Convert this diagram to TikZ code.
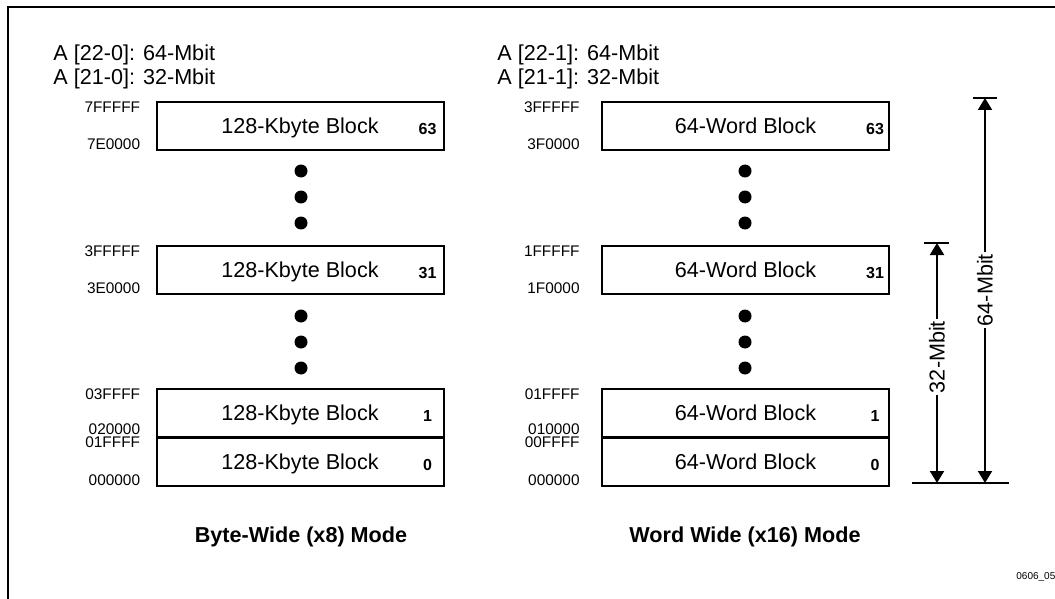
\documentclass[tikz,border=0pt]{standalone}
\usepackage{fontspec}
\setmainfont{Liberation Sans}
\usepackage{tikz}
\usetikzlibrary{arrows.meta}

\tikzset{
	blockbox/.style={rectangle, draw=black, line width=1pt, minimum width=143.5pt, minimum height=24pt, inner sep=0pt},
	blocktext/.style={font=\fontsize{10.8}{13}\selectfont, inner sep=0pt, text height=7.8pt, text depth=0pt},
	blocknum/.style={font=\fontsize{8}{10}\selectfont\bfseries, inner sep=0pt, text height=5.8pt, text depth=0pt, yshift=-1.5pt},
	addr/.style={font=\fontsize{7.7}{9}\selectfont, anchor=east, inner sep=0pt, text height=5.5pt, text depth=0pt},
	head/.style={font=\fontsize{10.8}{13}\selectfont, anchor=west, inner sep=0pt},
	modetitle/.style={font=\fontsize{10.8}{13}\selectfont\bfseries, inner sep=0pt},
	dot/.style={circle, fill=black, minimum size=6.5pt, inner sep=0pt},
	dimline/.style={line width=1pt, {Triangle[length=6pt, width=7pt]}-{Triangle[length=6pt, width=7pt]}},
	dimlabel/.style={font=\fontsize{10.8}{13}\selectfont, fill=white, rotate=90, inner sep=1pt}
}

\begin{document}
\begin{tikzpicture}[x=0.5pt, y=-0.5pt]
	\useasboundingbox (0,0) rectangle (1055,599);
	% frame
	\draw[line width=1.2pt] (8,599) -- (8,7) -- (1055,7);

	% byte-wide column
	\node[head] at (53,55)(headL1){A [22-0]: 64-Mbit};
	\node[head] at (53,79)(headL2){A [21-0]: 32-Mbit};
	\node[blockbox] at (300,126  )(blockL63){};
	\node[blockbox] at (300,269.5)(blockL31){};
	\node[blockbox] at (300,413  )(blockL1){};
	\node[blockbox] at (300,461.5)(blockL0){};
	\node[blocktext] at (blockL63.center){128-Kbyte Block};
	\node[blocktext] at (blockL31.center){128-Kbyte Block};
	\node[blocktext] at (blockL1.center){128-Kbyte Block};
	\node[blocktext] at (blockL0.center){128-Kbyte Block};
	\node[blocknum] at ([xshift=-8.5pt]blockL63.east)(numL63){63};
	\node[blocknum] at ([xshift=-8.5pt]blockL31.east)(numL31){31};
	\node[blocknum] at ([xshift=-8.5pt]blockL1.east)(numL1){1};
	\node[blocknum] at ([xshift=-8.5pt]blockL0.east)(numL0){0};
	\node[addr] at ([xshift=-7.5pt, yshift=-3pt  ]blockL63.north west)(addrL63t){7FFFFF};
	\node[addr] at ([xshift=-7.5pt, yshift=3.5pt ]blockL63.south west)(addrL63b){7E0000};
	\node[addr] at ([xshift=-7.5pt, yshift=-3pt  ]blockL31.north west)(addrL31t){3FFFFF};
	\node[addr] at ([xshift=-7.5pt, yshift=3.5pt ]blockL31.south west)(addrL31b){3E0000};
	\node[addr] at ([xshift=-7.5pt, yshift=-3pt  ]blockL1.north west)(addrL1t){03FFFF};
	\node[addr] at ([xshift=-7.5pt, yshift=4.5pt ]blockL1.south west)(addrL1b){020000};
	\node[addr] at ([xshift=-7.5pt, yshift=-2.5pt]blockL0.north west)(addrL0t){01FFFF};
	\node[addr] at ([xshift=-7.5pt, yshift=3.5pt ]blockL0.south west)(addrL0b){000000};
	\node[dot] at (301,171)(dotL1){};
	\node[dot] at (301,197)(dotL2){};
	\node[dot] at (301,223)(dotL3){};
	\node[dot] at (301,316)(dotL4){};
	\node[dot] at (301,342)(dotL5){};
	\node[dot] at (301,368)(dotL6){};
	\node[modetitle] at (301,537)(titleL){Byte-Wide (x8) Mode};

	% word-wide column
	\node[head] at (497,55)(headR1){A [22-1]: 64-Mbit};
	\node[head] at (497,79)(headR2){A [21-1]: 32-Mbit};
	\node[blockbox] at (745.5,126  )(blockR63){};
	\node[blockbox] at (745.5,269.5)(blockR31){};
	\node[blockbox] at (745.5,413  )(blockR1){};
	\node[blockbox] at (745.5,461.5)(blockR0){};
	\node[blocktext] at (blockR63.center){64-Word Block};
	\node[blocktext] at (blockR31.center){64-Word Block};
	\node[blocktext] at (blockR1.center){64-Word Block};
	\node[blocktext] at (blockR0.center){64-Word Block};
	\node[blocknum] at ([xshift=-7.5pt]blockR63.east)(numR63){63};
	\node[blocknum] at ([xshift=-7.5pt]blockR31.east)(numR31){31};
	\node[blocknum] at ([xshift=-7.5pt]blockR1.east)(numR1){1};
	\node[blocknum] at ([xshift=-7.5pt]blockR0.east)(numR0){0};
	\node[addr] at ([xshift=-10.5pt, yshift=-3pt  ]blockR63.north west)(addrR63t){3FFFFF};
	\node[addr] at ([xshift=-10.5pt, yshift=3.5pt ]blockR63.south west)(addrR63b){3F0000};
	\node[addr] at ([xshift=-10.5pt, yshift=-3pt  ]blockR31.north west)(addrR31t){1FFFFF};
	\node[addr] at ([xshift=-10.5pt, yshift=3.5pt ]blockR31.south west)(addrR31b){1F0000};
	\node[addr] at ([xshift=-10.5pt, yshift=-3pt  ]blockR1.north west)(addrR1t){01FFFF};
	\node[addr] at ([xshift=-10.5pt, yshift=4.5pt ]blockR1.south west)(addrR1b){010000};
	\node[addr] at ([xshift=-10.5pt, yshift=-2.5pt]blockR0.north west)(addrR0t){00FFFF};
	\node[addr] at ([xshift=-10.5pt, yshift=3.5pt ]blockR0.south west)(addrR0b){000000};
	\node[dot] at (745,171)(dotR1){};
	\node[dot] at (745,197)(dotR2){};
	\node[dot] at (745,223)(dotR3){};
	\node[dot] at (745,316)(dotR4){};
	\node[dot] at (745,342)(dotR5){};
	\node[dot] at (745,368)(dotR6){};
	\node[modetitle] at (745,537)(titleR){Word Wide (x16) Mode};

	% size arrows
	\coordinate (base1) at (912,483);
	\coordinate (base2) at (1009,483);
	\coordinate (tick32a) at (924,243);
	\coordinate (tick32b) at (949,243);
	\coordinate (tick64a) at (973,98);
	\coordinate (tick64b) at (997,98);
	\coordinate (top32) at (937,243);
	\coordinate (bot32) at (937,483);
	\coordinate (top64) at (985,98);
	\coordinate (bot64) at (985,483);
	\draw[line width=1pt](base1) -- (base2);
	\draw[line width=1pt](tick32a) -- (tick32b);
	\draw[line width=1pt](tick64a) -- (tick64b);
	\draw[dimline](bot32) -- node[dimlabel, pos=0.525]{32-Mbit}(top32);
	\draw[dimline](bot64) -- node[dimlabel, pos=0.501]{64-Mbit}(top64);

	\node[font=\fontsize{5}{6}\selectfont, anchor=west, inner sep=0pt] at (1016,577)(figid){0606\_05};
\end{tikzpicture}
\end{document}
